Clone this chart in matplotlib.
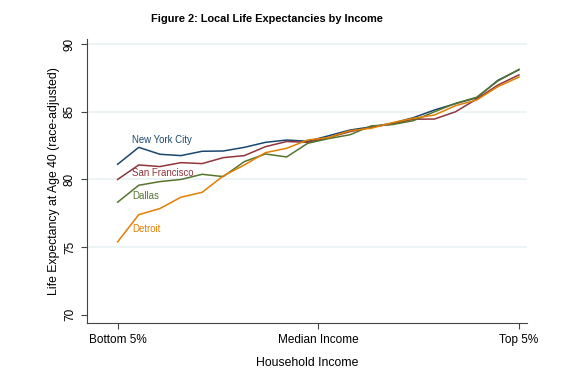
import matplotlib
matplotlib.use("Agg")
import matplotlib.pyplot as plt
import numpy as np

plt.rcParams['font.family'] = ['Liberation Sans', 'DejaVu Sans']

ventile = list(range(1, 21))
nyc = [81.12, 82.37, 81.86, 81.76, 82.08, 82.10, 82.37, 82.74, 82.91, 82.82,
       83.23, 83.65, 83.88, 84.15, 84.56, 85.13, 85.60, 86.03, 87.32, 88.10]
sf = [80.00, 81.07, 80.95, 81.24, 81.17, 81.61, 81.76, 82.42, 82.80, 82.74,
      83.10, 83.53, 83.85, 84.10, 84.45, 84.46, 85.00, 85.94, 86.97, 87.72]
dallas = [78.32, 79.57, 79.84, 80.00, 80.38, 80.21, 81.32, 81.88, 81.66, 82.67,
          83.02, 83.30, 83.95, 84.05, 84.34, 85.00, 85.62, 86.07, 87.27, 88.13]
detroit = [75.39, 77.40, 77.85, 78.69, 79.05, 80.26, 81.07, 81.98, 82.30, 82.91,
           83.10, 83.60, 83.78, 84.19, 84.51, 84.76, 85.45, 85.87, 86.85, 87.56]

cities = ["New York City", "San Francisco", "Dallas", "Detroit"]
series = [nyc, sf, dallas, detroit]
colors = ["#1a476f", "#90353b", "#55752f", "#e37e00"]
label_y = [82.9, 80.46, 78.8, 76.37]

xtick_pos = [1, 10.5, 20]
xtick_labels = ["Bottom 5%", "Median Income", "Top 5%"]
yticks = [70, 75, 80, 85, 90]

fig = plt.figure(figsize=(5.69, 3.68), dpi=100)
ax = fig.add_axes([0.1529, 0.1223, 0.7733, 0.7728])

for v in yticks[1:]:
    ax.axhline(v, color="#eaf2f3", lw=1.2, zorder=0)

for vals, c in zip(series, colors):
    ax.plot(ventile, vals, color=c, lw=1.1, zorder=3)

for name, c, ly in zip(cities, colors, label_y):
    ax.text(1.68, ly, name, color=c, fontsize=6.9, va="center", ha="left", zorder=4)

ax.set_xlim(-0.45, 20.38)
ax.set_ylim(69.4, 90.4)
ax.set_xticks(xtick_pos)
ax.set_xticklabels(xtick_labels, fontsize=8.5)
ax.set_yticks(yticks)
ax.set_yticklabels([str(v) for v in yticks], fontsize=8.5, rotation=90, va="center")
for s in ["top", "right"]:
    ax.spines[s].set_visible(False)
for s in ["left", "bottom"]:
    ax.spines[s].set_color("#444444")
    ax.spines[s].set_linewidth(0.8)
ax.tick_params(axis="both", direction="out", length=4, width=0.8, color="#444444", pad=4)

ax.set_xlabel("Household Income", fontsize=8.8, labelpad=8)
ax.set_ylabel("Life Expectancy at Age 40 (race-adjusted)", fontsize=8.8, labelpad=3)

fig.text(267/569, 1 - 19/368, "Figure 2: Local Life Expectancies by Income",
         fontsize=7.9, fontweight="bold", ha="center", va="center")

fig.savefig("out.png", dpi=100, facecolor="white")
